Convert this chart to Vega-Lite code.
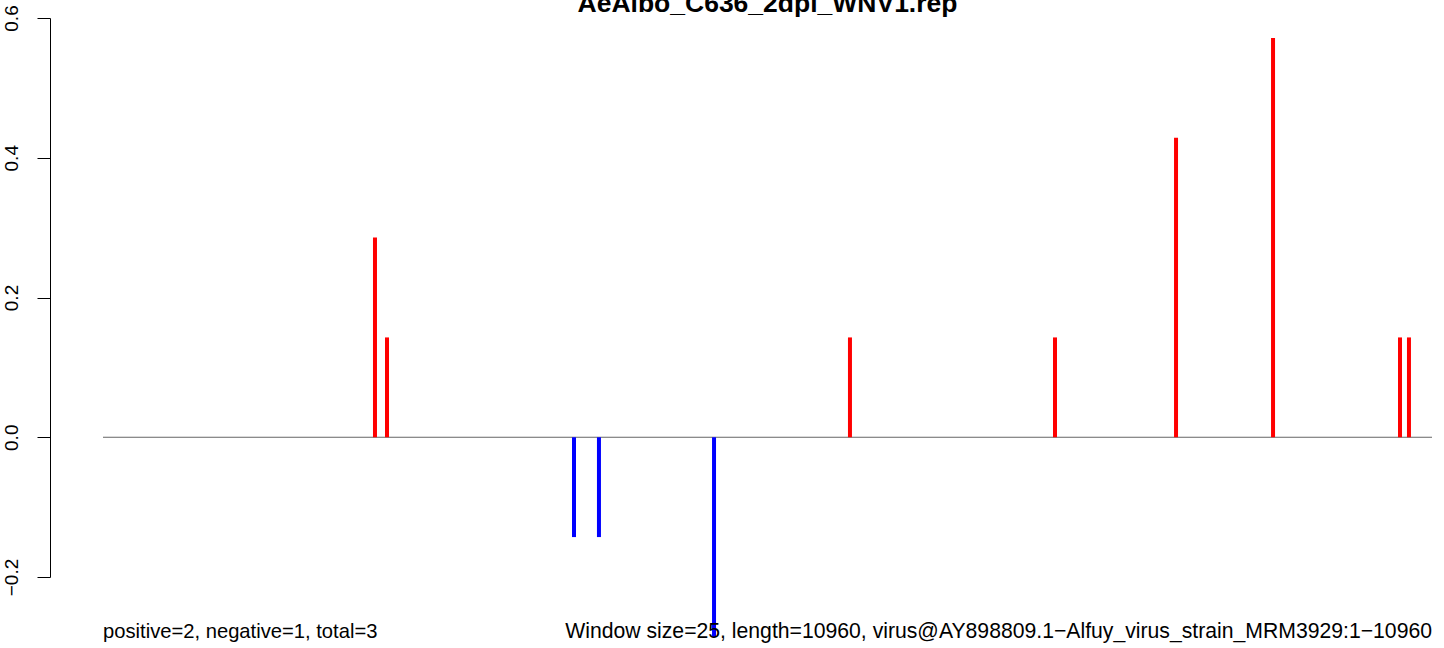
{
  "$schema": "https://vega.github.io/schema/vega-lite/v6.json",
  "width": 1394,
  "height": 559,
  "autosize": {"type": "none"},
  "padding": {"left": 50, "top": 18, "right": 0, "bottom": 71},
  "background": "white",
  "config": {"view": {"stroke": null}, "font": "Liberation Sans"},
  "datasets": {
    "bars": [
      {"pos": 2243, "score": 0.285714},
      {"pos": 2342, "score": 0.142857},
      {"pos": 3884, "score": -0.142857},
      {"pos": 4090, "score": -0.142857},
      {"pos": 5039, "score": -0.285714},
      {"pos": 6160, "score": 0.142857},
      {"pos": 7851, "score": 0.142857},
      {"pos": 8849, "score": 0.428571},
      {"pos": 9649, "score": 0.571429},
      {"pos": 10696, "score": 0.142857},
      {"pos": 10770, "score": 0.142857}
    ],
    "baseline": [{"start": 0, "end": 10960}],
    "title": [{"label": "AeAlbo_C636_2dpi_WNV1.rep"}],
    "left_note": [{"label": "positive=2, negative=1, total=3"}],
    "right_note": [{"label": "Window size=25, length=10960, virus@AY898809.1\u2212Alfuy_virus_strain_MRM3929:1\u221210960"}]
  },
  "layer": [
    {
      "data": {"name": "baseline"},
      "mark": {"type": "rule", "color": "#666666", "strokeWidth": 1},
      "encoding": {
        "x": {"field": "start", "type": "quantitative", "scale": {"domain": [-437.1, 11058.9], "nice": false, "zero": false}, "axis": null},
        "x2": {"field": "end"},
        "y": {"datum": 0, "type": "quantitative"}
      }
    },
    {
      "data": {"name": "bars"},
      "mark": {"type": "rule", "strokeWidth": 4, "clip": false},
      "encoding": {
        "x": {"field": "pos", "type": "quantitative", "axis": null},
        "y": {
          "field": "score", "type": "quantitative",
          "scale": {"domain": [-0.2, 0.6], "nice": false, "zero": false},
          "axis": {
            "title": null, "values": [-0.2, 0, 0.2, 0.4, 0.6], "format": ".1f",
            "grid": false, "domainColor": "black", "domainWidth": 1,
            "tickColor": "black", "tickWidth": 1, "tickSize": 13,
            "labelAngle": 270, "labelAlign": "center", "labelBaseline": "alphabetic",
            "labelPadding": 20, "labelFontSize": 19, "labelColor": "black",
            "labelFont": "Liberation Sans", "labelOverlap": false, "labelBound": false, "labelFlush": false
          }
        },
        "y2": {"datum": 0},
        "color": {"field": "score", "type": "quantitative", "scale": {"type": "threshold", "domain": [0], "range": ["#0000ff", "#ff0000"]}, "legend": null}
      }
    },
    {
      "data": {"name": "title"},
      "mark": {"type": "text", "font": "Liberation Sans", "fontWeight": "bold", "fontSize": 26.5, "align": "center", "baseline": "alphabetic", "color": "black", "clip": false},
      "encoding": {
        "text": {"field": "label"},
        "x": {"datum": 5480, "type": "quantitative"},
        "y": {"datum": 0.6086, "type": "quantitative"}
      }
    },
    {
      "data": {"name": "left_note"},
      "mark": {"type": "text", "font": "Liberation Sans", "fontSize": 20.2, "align": "left", "baseline": "alphabetic", "color": "black", "clip": false},
      "encoding": {
        "text": {"field": "label"},
        "x": {"datum": 0, "type": "quantitative"},
        "y": {"datum": -0.287, "type": "quantitative"}
      }
    },
    {
      "data": {"name": "right_note"},
      "mark": {"type": "text", "font": "Liberation Sans", "fontSize": 21.2, "align": "right", "baseline": "alphabetic", "color": "black", "clip": false},
      "encoding": {
        "text": {"field": "label"},
        "x": {"datum": 10960, "type": "quantitative"},
        "y": {"datum": -0.287, "type": "quantitative"}
      }
    }
  ]
}
